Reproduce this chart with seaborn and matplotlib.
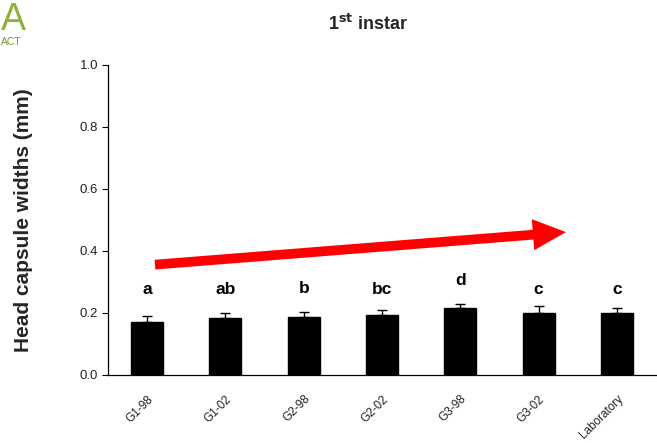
import matplotlib
matplotlib.use("Agg")
import matplotlib.pyplot as plt
import seaborn as sns
import pandas as pd
import numpy as np

groups = ["G1-98", "G1-02", "G2-98", "G2-02", "G3-98", "G3-02", "Laboratory"]
widths = [0.171, 0.184, 0.187, 0.194, 0.216, 0.200, 0.200]
errors = [0.019, 0.015, 0.015, 0.015, 0.013, 0.022, 0.016]
letters = ["a", "ab", "b", "bc", "d", "c", "c"]
letter_y = [0.252, 0.252, 0.255, 0.252, 0.280, 0.252, 0.252]

df = pd.DataFrame({"group": groups, "width": widths})

sns.set_theme(style="white")
plt.rcParams["font.family"] = ["Liberation Sans", "DejaVu Sans"]

fig = plt.figure(figsize=(6.57, 4.43), dpi=100)
ax = fig.add_axes([0.1644, 0.1535, 0.8341, 0.6998])

sns.barplot(data=df, x="group", y="width", color="black", width=0.41,
            edgecolor="black", saturation=1, errorbar=None, ax=ax)
xs = np.arange(len(groups))
ax.errorbar(xs, widths, yerr=[np.zeros(len(errors)), errors], fmt="none",
            ecolor="black", elinewidth=1.0, capsize=3.5, capthick=1.0)

for x, t, ly in zip(xs, letters, letter_y):
    ax.text(x, ly, t, ha="center", va="bottom", fontsize=12.5,
            fontweight="bold", color="black")

# trend arrow
ax.annotate("", xy=(5.35, 0.461), xytext=(0.1, 0.356),
            arrowprops=dict(arrowstyle="simple,head_length=1.7,head_width=1.6,tail_width=0.5",
                            color="#ff0000", lw=0, mutation_scale=14,
                            shrinkA=0, shrinkB=0))

ax.set_xlim(-0.5, 6.5)
ax.set_ylim(0, 1.0)
ax.set_yticks([0.0, 0.2, 0.4, 0.6, 0.8, 1.0])
ax.set_yticklabels([f"{v:.1f}" for v in [0.0, 0.2, 0.4, 0.6, 0.8, 1.0]],
                   fontsize=9.5, color="#222222")
ax.set_xticks(xs)
ax.set_xticklabels(groups, rotation=45, ha="right", rotation_mode="anchor",
                   fontsize=8.5, color="#222222")
ax.set_xticks(np.arange(0.5, 6.0, 1.0), minor=True)
ax.tick_params(axis="x", which="major", length=0, pad=13)
ax.tick_params(axis="x", which="minor", length=4, width=0.8, color="black", direction="out")
ax.tick_params(axis="y", length=4, width=0.8, color="black", direction="out", left=True, pad=3)

for s in ["top", "right"]:
    ax.spines[s].set_visible(False)
for s in ["left", "bottom"]:
    ax.spines[s].set_color("black")
    ax.spines[s].set_linewidth(0.9)

ax.set_xlabel("")
ax.set_ylabel("Head capsule widths (mm)", fontsize=15, fontweight="bold", labelpad=34)

fig.text(0.56, 0.946, r"1$^{\mathbf{st}}$ instar", ha="center", va="center",
         fontsize=13, fontweight="bold")

# corner logo fragment
fig.text(0.002, 0.995, "A", fontsize=27, color="#8db33a", ha="left", va="top")
fig.text(0.002, 0.905, "ACT", fontsize=7.5, color="#6f9a2a", ha="left", va="center")

fig.savefig("out.png", dpi=100)
